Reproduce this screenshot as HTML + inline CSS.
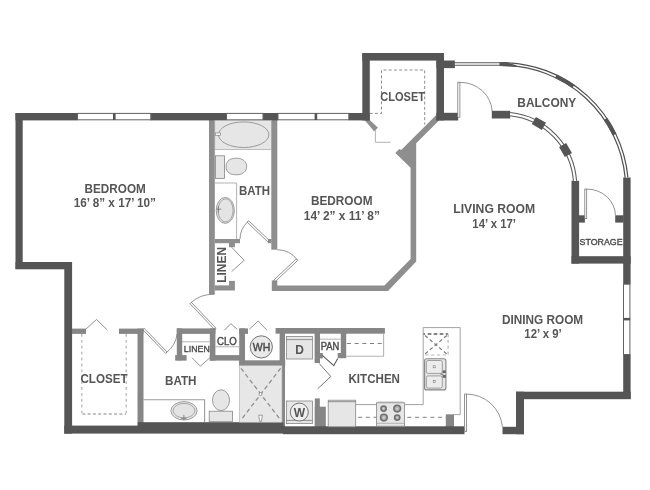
<!DOCTYPE html>
<html>
<head>
<meta charset="utf-8">
<title>Floor Plan</title>
<style>
html,body{margin:0;padding:0;background:#fff;}
svg{display:block;}
text{font-family:"Liberation Sans",Arial,sans-serif;fill:#555;}
.b{font-weight:bold;font-size:12px;}
.r{font-size:9.6px;fill:#4a4a4a;stroke:#4a4a4a;stroke-width:0.4;}
.dsx{fill:none;stroke:#8a8a8a;stroke-width:1.2;stroke-dasharray:4.3 3;}
.dk{fill:#555;}
.lt{fill:#8e8e8e;}
.lt2{fill:#868686;}
.ln{fill:none;stroke:#777;stroke-width:0.8;}
.lnl{fill:none;stroke:#aaa;stroke-width:0.9;}
.ds{fill:none;stroke:#808080;stroke-width:0.9;stroke-dasharray:3 2.2;}
.dk2{fill:none;stroke:#808080;stroke-width:1;stroke-dasharray:4 3.7;}
.dr{fill:none;stroke:#5c5c5c;stroke-width:1.1;}
.fx{fill:#e6e6e6;stroke:#868686;stroke-width:0.8;}
.wn{fill:#fff;stroke:#626262;stroke-width:1;}
</style>
</head>
<body>
<svg width="650" height="490" viewBox="0 0 650 490">
<defs><filter id="idf" x="0" y="0" width="650" height="490" filterUnits="userSpaceOnUse" color-interpolation-filters="sRGB"><feOffset dx="0" dy="0"/></filter></defs>
<rect width="650" height="490" fill="#fff"/>

<!-- ===== light interior walls ===== -->
<g class="lt" id="iwalls">
  <!-- upper bath walls -->
  <rect x="209" y="120" width="5.8" height="174.2"/>
  <rect x="271.3" y="120" width="6" height="129.7"/>
  <rect x="214.8" y="239" width="25.2" height="4.2"/>
  <rect x="229" y="243" width="5.9" height="4.2"/>
  <rect x="268" y="239" width="3.5" height="4.2"/>
  <!-- linen bottom -->
  <rect x="214.8" y="285.4" width="20.1" height="5.1"/>
  <rect x="229" y="280.9" width="5.9" height="5"/>
  <!-- bedroom 2 bottom + right -->
  <polygon points="271.8,280.4 277.3,280.4 277.3,285.4 384.4,285.4 410.6,259 410.6,167.7 395.4,153 399.2,149 401.2,150.1 436,115.3 439,120.4 416.2,143.2 416.2,261.5 388,291 271.8,291"/>
  <!-- upper closet left diag -->
  <polygon points="364.6,120 369.7,120 378,127.7 374,131.3"/>
</g>
<g class="lt2" id="iwalls2">
  <!-- lower-left closet top wall -->
  <rect x="72" y="328.6" width="14" height="5.3"/>
  <rect x="119" y="328.6" width="24.5" height="5.3"/>
  <!-- closet/bath wall -->
  <rect x="137.5" y="328.6" width="6" height="98"/>
  <!-- bath top wall & linen -->
  <rect x="176.8" y="328.4" width="5.4" height="32"/>
  <rect x="175.2" y="355.1" width="11.4" height="5.5"/>
  <rect x="176.8" y="328.4" width="38.6" height="5.5"/>
  <rect x="209.8" y="328.4" width="5.6" height="32.2"/>
  <rect x="209.8" y="355.1" width="35" height="5.5"/>
  <!-- CLO right wall / WH -->
  <rect x="239.2" y="328.4" width="5.8" height="37.4"/>
  <rect x="239.2" y="328.4" width="8.8" height="5.5"/>
  <rect x="239.2" y="360.3" width="46" height="5.5"/>
  <!-- kitchen top wall -->
  <rect x="275.6" y="328" width="109.3" height="5.7"/>
  <!-- laundry left wall -->
  <rect x="279.6" y="328" width="5.4" height="38"/>
  <rect x="281.6" y="365" width="3.4" height="62"/>
  <!-- pantry walls -->
  <rect x="314.6" y="333" width="5.4" height="30"/>
  <rect x="319.5" y="353" width="3.3" height="5.4"/>
  <rect x="340.8" y="333" width="5.4" height="25.2"/>
  <rect x="337.7" y="353" width="4" height="5.2"/>
  <!-- laundry lower stub -->
  <rect x="314.8" y="398.4" width="5" height="29"/>
  <rect x="314.8" y="406.7" width="11" height="21"/>
  <!-- kitchen stub right -->
  <rect x="445.8" y="415" width="8.2" height="12.5"/>
</g>

<!-- ===== dark exterior walls ===== -->
<g class="dk" id="owalls">
  <!-- left -->
  <rect x="15.5" y="113" width="7.2" height="156"/>
  <rect x="15.5" y="113" width="62" height="7.4"/>
  <rect x="150.5" y="113" width="76" height="7.4"/>
  <rect x="263" y="113" width="15" height="7.4"/>
  <rect x="348.8" y="113" width="20.9" height="7.4"/>
  <rect x="15.5" y="262" width="56.5" height="7.3"/>
  <rect x="64.3" y="262" width="7.8" height="171.6"/>
  <!-- bottom -->
  <rect x="64.3" y="425.6" width="220" height="8"/>
  <rect x="283" y="426.3" width="181.5" height="7.9"/>
  <rect x="137.8" y="422.2" width="145.6" height="8"/>
  <rect x="502.5" y="426.8" width="21.5" height="7.4"/>
  <rect x="516" y="391.7" width="8" height="42.5"/>
  <rect x="516" y="391.7" width="114.7" height="7.5"/>
  <rect x="623.2" y="354.4" width="7.4" height="44.6"/>
  <!-- right upper -->
  <rect x="623.2" y="177.5" width="7.4" height="106.7"/>
  <rect x="571.5" y="180.8" width="7.6" height="82.8"/>
  <rect x="571.5" y="256.2" width="59.2" height="7.4"/>
  <rect x="579" y="215.3" width="5.9" height="7.3"/>
  <rect x="615.2" y="215.3" width="8.4" height="7.3"/>
  <!-- upper closet -->
  <rect x="362.3" y="53" width="7.5" height="67.4"/>
  <rect x="362.3" y="53" width="81.7" height="7.6"/>
  <rect x="436.4" y="53" width="7.6" height="67.4"/>
  <rect x="436.4" y="60.5" width="18.5" height="7.6"/>
  <rect x="436.4" y="112.8" width="21.8" height="7.7"/>
  <!-- balcony door block -->
  <rect x="491.8" y="110.8" width="18.4" height="7.7"/>
</g>

<!-- ===== windows ===== -->
<g id="windows">
  <rect class="wn" x="77.5" y="113.4" width="73.3" height="6.4"/>
  <rect class="dk" x="113" y="113.2" width="2.6" height="6.8"/>
  <rect class="wn" x="226.5" y="113.4" width="36.5" height="6.4"/>
  <rect class="wn" x="278" y="113.4" width="70.8" height="6.4"/>
  <rect class="dk" x="314.6" y="113.2" width="2.6" height="6.8"/>
  <rect class="wn" x="623.5" y="284.2" width="6.4" height="70.3"/>
  <rect class="dk" x="623.3" y="317.9" width="6.8" height="2.5"/>
</g>

<!-- balcony arcs -->
<g id="balcony" fill="none">
  <path d="M455,64.05 H502.07" stroke="#5a5a5a" stroke-width="3.5"/>
  <path d="M502.07,64.05 A124.98,124.98 0 0 1 626.52,177.49" stroke="#505050" stroke-width="4"/>
  <path d="M455,64.05 H502.07 A124.98,124.98 0 0 1 626.52,177.49" stroke="#fff" stroke-width="1.6"/>
  <path d="M510,114.12 A72.59,72.59 0 0 1 575,181" stroke="#5a5a5a" stroke-width="4.2"/>
  <path d="M510,114.12 A72.59,72.59 0 0 1 575,181" stroke="#fff" stroke-width="2.1"/>
  <g stroke="#555" stroke-width="4">
    <path d="M499.5,62.3 L508,62.7 L516.3,65.3 L516.3,66.7 L499.5,65.9 Z" fill="#555" stroke="none"/>
    <path d="M555.88,76.22 A124.98,124.98 0 0 1 573.4,86.4"/>
    <path d="M605.56,118.96 A124.98,124.98 0 0 1 614.59,134.63"/>
  </g>
</g>
<g class="dk">
  <rect x="-5.8" y="-4.1" width="11.6" height="8.2" transform="translate(538.9,123.46) rotate(30)"/>
  <rect x="-5.8" y="-4.1" width="11.6" height="8.2" transform="translate(565.5,150) rotate(60)"/>
</g>

<!-- ===== doors ===== -->
<g id="doors">
  <!-- balcony door -->
  <rect class="wn" style="stroke:#7a7a7a;stroke-width:0.8" x="457.8" y="82.3" width="2.1" height="35"/>
  <path class="ln" d="M459.9,82.3 A32.3,30.5 0 0 1 492.2,111.4"/>
  <!-- storage door -->
  <rect class="wn" style="stroke:#7a7a7a;stroke-width:0.8" x="584.8" y="189.1" width="1.9" height="29.5"/>
  <path class="ln" d="M586.7,189.1 A28.5,27 0 0 1 615.5,215.3"/>
  <!-- entry door -->
  <rect class="wn" style="stroke:#7a7a7a;stroke-width:0.8" x="464.6" y="394.1" width="2" height="37.4"/>
  <path class="ln" d="M466.6,394.1 A36,36 0 0 1 502.4,426.8"/>
  <!-- upper bath door -->
  <path class="ln" d="M269.2,240.4 L248.6,220.7 L247.2,222.2 L267.8,241.9 Z" fill="#d4d4d4"/>
  <path class="ln" d="M248,221.4 Q240,229 240,239"/>
  <!-- bedroom 2 door -->
  <path class="ln" d="M273.6,280.3 L296.3,258.9 L297.7,260.4 L275,281.8 Z" fill="#d4d4d4"/>
  <path class="ln" d="M297,259.5 Q290,250 277.3,249.7"/>
  <!-- bedroom 1 door -->
  <path class="ln" d="M216.1,328.3 L191.4,302.3 L190,303.7 L214.7,329.7 Z" fill="#d4d4d4"/>
  <path class="ln" d="M190.7,303 Q200,294 214.5,294.2"/>
  <!-- lower bath door -->
  <path class="ln" d="M144.2,328.3 L167.1,352 L165.7,353.4 L142.8,329.7 Z" fill="#d4d4d4"/>
  <path class="ln" d="M166.4,352.7 Q176,345 177,334"/>
  <!-- bifolds -->
  <path class="ln" d="M231.6,247.2 L244.2,260.3 L231.6,271.6"/>
  <path class="ln" d="M86,329 L96.5,319.5 L107.3,330"/>
  <path class="ln" d="M192.1,357.9 L200.4,366.2 L209.7,357.9"/>
  <path class="ln" d="M224.4,330.2 L230.9,323.7 L237.3,329.3"/>
  <path class="ln" d="M249.3,329.3 L258.2,321 L266.9,330.2"/>
  <path class="dr" style="stroke:#7a7a7a;stroke-width:1" d="M319.2,363.4 L330.8,376.5 L317.7,388.8"/>
  <path class="dr" d="M322.3,355.4 L333.8,365.7 L337.7,358.5"/>
  <!-- upper closet door frame -->
  <path class="lnl" d="M375.4,130 V142.3 H390.8"/>
</g>

<!-- ===== fixtures ===== -->
<g id="fixtures">
  <!-- upper bath: tub -->
  <rect x="214.8" y="120.4" width="56.5" height="29" fill="#e6e6e6" stroke="#999" stroke-width="0.6"/>
  <ellipse class="fx" cx="243.7" cy="134.7" rx="25.2" ry="12.8"/>
  <rect x="215.4" y="132.9" width="4.9" height="2.4" fill="#f4f4f4" stroke="#7a7a7a" stroke-width="0.6"/>
  <!-- toilet -->
  <rect class="fx" x="215.5" y="155.8" width="9" height="22.6"/>
  <path class="fx" d="M226.1,166.5 C226.1,160.5 230.5,158.2 236.5,158.2 C242.5,158.2 246.7,161.5 246.7,166.5 C246.7,171.5 242.5,174.8 236.5,174.8 C230.5,174.8 226.1,172.5 226.1,166.5 Z"/>
  <!-- vanity -->
  <path class="lnl" d="M215,183 H236.6 V239"/>
  <ellipse class="fx" cx="225.3" cy="210.4" rx="9.1" ry="13"/>
  <ellipse cx="225.6" cy="210.4" rx="7.5" ry="11.6" fill="#e4e4e4" stroke="#8a8a8a" stroke-width="0.7"/>
  <path d="M216.6,209.2 H221.2 M218.4,206 V212.6" stroke="#7a7a7a" stroke-width="0.9" fill="none"/>
  <!-- lower bath vanity -->
  <path class="lnl" style="stroke:#9a9a9a;stroke-width:1.1" d="M143.5,399.8 H204.6 V422.3"/>
  <ellipse class="fx" cx="184" cy="410.8" rx="13.1" ry="9.2"/>
  <ellipse cx="184" cy="410.6" rx="10.9" ry="7.2" fill="#e4e4e4" stroke="#8a8a8a" stroke-width="0.7"/>
  <path d="M183.9,414.8 V420 M181.2,418.6 H186.6" stroke="#7a7a7a" stroke-width="0.9" fill="none"/>
  <!-- lower toilet -->
  <rect class="fx" x="209.2" y="411.2" width="23.2" height="10.5"/>
  <ellipse class="fx" cx="221" cy="400.2" rx="8.5" ry="10.4"/>
  <!-- shower -->
  <rect x="239.5" y="365.6" width="42.5" height="56.6" fill="#e7e7e7" stroke="#aaa" stroke-width="0.6"/>
  <path class="dsx" d="M241,368.3 L280.6,420 M280.6,368.3 L241,420"/>
  <circle cx="260.5" cy="394.1" r="1.5" fill="#fff" stroke="#777" stroke-width="0.7"/>
  <path d="M258.7,415.2 H262.4 L261.3,421.6 H259.8 Z" fill="#fff" stroke="#777" stroke-width="0.7"/>
  <!-- WH -->
  <circle cx="261.3" cy="346.9" r="11.1" fill="#e9e9e9" stroke="#6a6a6a" stroke-width="0.95"/>
  <!-- CLO shelf -->
  <path class="lnl" d="M215.4,346.8 H239.2 M182,341.8 H209.8"/>
  <path class="lnl" d="M320,339.2 H340.8"/>
  <!-- Dryer -->
  <rect class="fx" x="286.4" y="336.4" width="26" height="22.6"/>
  <path class="ln" d="M286.4,339.6 H312.4"/>
  <!-- Washer -->
  <rect class="fx" x="286.4" y="401" width="26" height="22.6"/>
  <path class="ln" d="M286.4,420.4 H312.4"/>
  <circle cx="299.3" cy="412.1" r="9" fill="#eee" stroke="#666" stroke-width="0.9"/>
  <!-- fridge -->
  <rect class="fx" x="328.2" y="400.2" width="27.5" height="26.6"/>
  <path class="ln" d="M328.2,401.7 H355.7"/>
  <!-- counter bottom -->
  <path class="ln" style="stroke:#8a8a8a" d="M355.7,404.6 H376.6 M405,404.6 H423.2 V327.6 H460.2 V414.6 H445.9"/>
  <path class="dk2" d="M358.1,417.3 H376.6 M407.3,417.3 H446"/>
  <!-- stove -->
  <rect x="378" y="401" width="25" height="2" fill="#ddd"/>
  <rect class="fx" x="376.4" y="402.8" width="28.2" height="23.4"/>
  <path class="lnl" d="M377,423.3 H404"/>
  <g fill="#b0b0b0" stroke="#707070" stroke-width="1.6">
    <circle cx="383.6" cy="408.6" r="2.6"/><circle cx="397.2" cy="408.6" r="3.3"/>
    <circle cx="383.9" cy="417.6" r="3.3"/><circle cx="397.2" cy="417.6" r="2.6"/>
  </g>
  <g fill="#ddd"><circle cx="383.6" cy="408.6" r="0.8"/><circle cx="397.2" cy="408.6" r="0.9"/><circle cx="383.9" cy="417.6" r="0.9"/><circle cx="397.2" cy="417.6" r="0.8"/></g>
  <!-- upper cabinets -->
  <path d="M383.6,334 V356.2 H346.2" fill="none" stroke="#b4b4b4" stroke-width="1.1"/>
  <path class="dk2" d="M346.9,343.5 H383.6"/>
  <!-- dashed X box -->
  <path d="M423.5,334 H448.1" fill="none" stroke="#606060" stroke-width="1.3" stroke-dasharray="1.6 2.6 3.7 2.3 3.7 2.3 3.7 2.3 3 0"/>
  <path d="M448.1,334 V355 H423.5" fill="none" stroke="#b8b8b8" stroke-width="1.2" stroke-dasharray="3.2 2.6"/>
  <path d="M425,335.5 L446.8,354 M446.8,335.5 L425,354" fill="none" stroke="#7a7a7a" stroke-width="1.2" stroke-dasharray="3.6 2.6"/>
  <!-- sink -->
  <rect x="424.6" y="358.7" width="21.3" height="31.2" rx="2" fill="#e7e7e7" stroke="#868686" stroke-width="1.1"/>
  <rect x="426.3" y="360.5" width="16" height="12.9" rx="1.8" fill="#ececec" stroke="#8a8a8a" stroke-width="0.8"/>
  <rect x="426.3" y="375.9" width="16" height="12.2" rx="1.8" fill="#ececec" stroke="#8a8a8a" stroke-width="0.8"/>
  <rect x="433.2" y="365.8" width="2" height="2" fill="#fff" stroke="#777" stroke-width="0.6"/>
  <rect x="433.2" y="380.5" width="2" height="2" fill="#fff" stroke="#777" stroke-width="0.6"/>
  <rect x="442.6" y="370.4" width="3.2" height="2.6" fill="#666"/>
  <rect x="442.6" y="375" width="3.2" height="2.8" fill="#666"/>
  <rect x="440.4" y="373.6" width="3" height="1.2" fill="#777"/>
  <!-- closet dashed -->
  <path class="ds" d="M369.7,113.4 H381.5 V70 H424.7 V124.6"/>
  <path d="M81.8,334 V413 M126.2,334 V413" fill="none" stroke="#aaa" stroke-width="1.1" stroke-dasharray="2.8 3.1"/>
  <path d="M82.3,414 H126.2" fill="none" stroke="#777" stroke-width="0.9" stroke-dasharray="3 2.3"/>
</g>

<!-- ===== text ===== -->
<g id="labels" text-anchor="middle" filter="url(#idf)">
  <text class="b" x="115.2" y="192.6" textLength="61.2" lengthAdjust="spacingAndGlyphs">BEDROOM</text>
  <text class="b" x="114.9" y="207" textLength="82.2" lengthAdjust="spacingAndGlyphs">16’ 8” x 17’ 10”</text>
  <text class="b" x="341.7" y="204.8" textLength="61.6" lengthAdjust="spacingAndGlyphs">BEDROOM</text>
  <text class="b" x="341.85" y="219.6" textLength="76.1" lengthAdjust="spacingAndGlyphs">14’ 2” x 11’ 8”</text>
  <text class="b" x="494.2" y="213.2" textLength="81.8" lengthAdjust="spacingAndGlyphs">LIVING ROOM</text>
  <text class="b" x="494.15" y="227.6" textLength="43.7" lengthAdjust="spacingAndGlyphs">14’ x 17’</text>
  <text class="b" x="542.6" y="324" textLength="81.2" lengthAdjust="spacingAndGlyphs">DINING ROOM</text>
  <text class="b" x="543" y="338.4" textLength="37.3" lengthAdjust="spacingAndGlyphs">12’ x 9’</text>
  <text class="b" x="374.25" y="383" textLength="51.5" lengthAdjust="spacingAndGlyphs">KITCHEN</text>
  <text class="b" x="254.5" y="195" textLength="31" lengthAdjust="spacingAndGlyphs">BATH</text>
  <text class="b" x="180.75" y="384.9" textLength="31.5" lengthAdjust="spacingAndGlyphs">BATH</text>
  <text class="b" x="104" y="383.3" textLength="47.2" lengthAdjust="spacingAndGlyphs">CLOSET</text>
  <text class="b" x="402.65" y="100.7" textLength="44.7" lengthAdjust="spacingAndGlyphs">CLOSET</text>
  <text class="b" x="546.8" y="107" textLength="59" lengthAdjust="spacingAndGlyphs">BALCONY</text>
  <text class="b" transform="translate(225.8,264.8) rotate(-90)">LINEN</text>
  <text class="r" x="601.05" y="244.9" textLength="43.1" lengthAdjust="spacingAndGlyphs">STORAGE</text>
  <text class="r" x="196.8" y="351.5" textLength="25.9" lengthAdjust="spacingAndGlyphs">LINEN</text>
  <text class="r" x="226.9" y="345" style="font-size:10px" textLength="19.8" lengthAdjust="spacingAndGlyphs">CLO</text>
  <text class="r" x="330.1" y="349.8" style="font-size:10px" textLength="18.6" lengthAdjust="spacingAndGlyphs">PAN</text>
  <text x="261.6" y="351" style="font-size:11px;fill:#4a4a4a;stroke:#4a4a4a;stroke-width:0.45" textLength="17.5" lengthAdjust="spacingAndGlyphs">WH</text>
  <text class="b" x="299.5" y="353.7">D</text>
  <text class="b" x="299.3" y="416.8">W</text>
</g>
</svg>
</body>
</html>
